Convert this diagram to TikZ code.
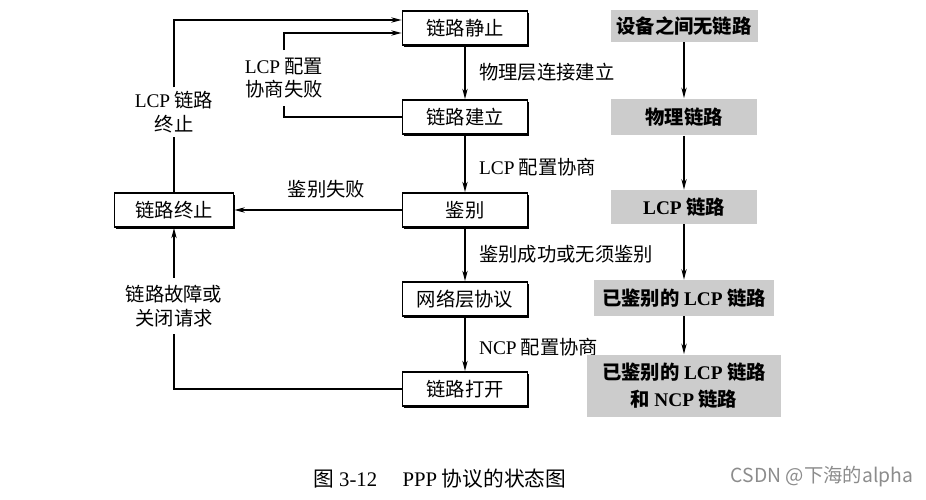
\documentclass[tikz,border=0pt]{standalone}
\usepackage{fontspec}
\setmainfont{Noto Sans CJK SC}
\newfontfamily\lat{Liberation Serif}
\usetikzlibrary{arrows.meta,shadows,positioning}
\newcommand{\fsz}{\fontsize{11}{13.5}\selectfont}
\tikzset{
    state/.style={draw, line width=0.9pt, fill=white, minimum width=2.5cm, minimum height=0.68cm,
        drop shadow={shadow xshift=0.9pt, shadow yshift=-0.9pt, opacity=1, fill=black}},
    phase/.style={fill=black!20, font=\fsz\bfseries, minimum width=2.92cm, minimum height=0.68cm, align=center},
    lbl/.style={fill=white, align=center, inner sep=2pt},
    flow/.style={line width=0.8pt, -{Stealth[length=6pt,width=3pt]}},
}

\begin{document}
\begin{tikzpicture}[x=0.02cm, y=-0.02cm, every node/.style={font=\fsz}]
    \useasboundingbox (0,0) rectangle (926,500);

    % Draw the states.
    \node[state] (quiet) at (465,28) {链路静止};
    \node[state] (est) at (465,117) {链路建立};
    \node[state] (auth) at (465,210) {鉴别};
    \node[state] (net) at (465,299) {网络层协议};
    \node[state] (open) at (465,389) {链路打开};
    \node[state, minimum width=2.38cm] (term) at (174,210) {链路终止};

    % Draw the main chain.
    \draw[flow] (quiet) -- (est) node[midway, right=1.5mm] {物理层连接建立};
    \draw[flow] (est) -- (auth) node[midway, right=1.5mm, yshift=-2pt] {{\lat LCP} 配置协商};
    \draw[flow] (auth) -- (net) node[midway, right=1.5mm] {鉴别成功或无须鉴别};
    \draw[flow] (net) -- (open) node[midway, right=1.5mm, yshift=-2pt] {{\lat NCP} 配置协商};
    \draw[flow] (auth) -- (term) node[pos=0.45, above=1mm] {鉴别失败};

    % Draw the loops on the left.
    \node[lbl] (lcpterm) at (174,112) {{\lat LCP} 链路\\终止};
    \draw[line width=0.8pt] (term.north) -- (lcpterm.south);
    \draw[flow] (lcpterm.north) |- ([yshift=0.16cm]quiet.west);

    \node[lbl, inner sep=4pt] (lcpfail) at (284,78) {{\lat LCP} 配置\\协商失败};
    \draw[line width=0.8pt] (est.west) -| (lcpfail.south);
    \draw[flow] (lcpfail.north) |- ([yshift=-0.1cm]quiet.west);

    \node[lbl, inner sep=4pt] (fault) at (174,306) {链路故障或\\关闭请求};
    \draw[line width=0.8pt] (open.west) -| (fault.south);
    \draw[flow] (fault.north) -- (term.south);

    % Draw the phases on the right.
    \node[phase, minimum width=2.84cm, minimum height=0.64cm] (p0) at (684,26) {设备之间无链路};
    \node[phase, minimum height=0.74cm] (p1) at (684,117) {物理链路};
    \node[phase] (p2) at (684,207) {{\lat LCP} 链路};
    \node[phase, minimum width=3.6cm, minimum height=0.72cm] (p3) at (684,298) {已鉴别的 {\lat LCP} 链路};
    \node[phase, minimum width=3.88cm, minimum height=1.26cm] (p4) at (684,386) {已鉴别的 {\lat LCP} 链路\\[2pt]和 {\lat NCP} 链路};
    \foreach \a/\b in {p0/p1,p1/p2,p2/p3,p3/p4}
        \draw[flow] (\a) -- (\b);

    % Caption and mark.
    \node[font=\fontsize{11.8}{14}\selectfont] (cap) at (440,479) {图 {\lat 3-12}\quad\ {\lat PPP} 协议的状态图};
    \node[text=black!45] (mark) at (822,477) {CSDN @下海的alpha};
\end{tikzpicture}
\end{document}
